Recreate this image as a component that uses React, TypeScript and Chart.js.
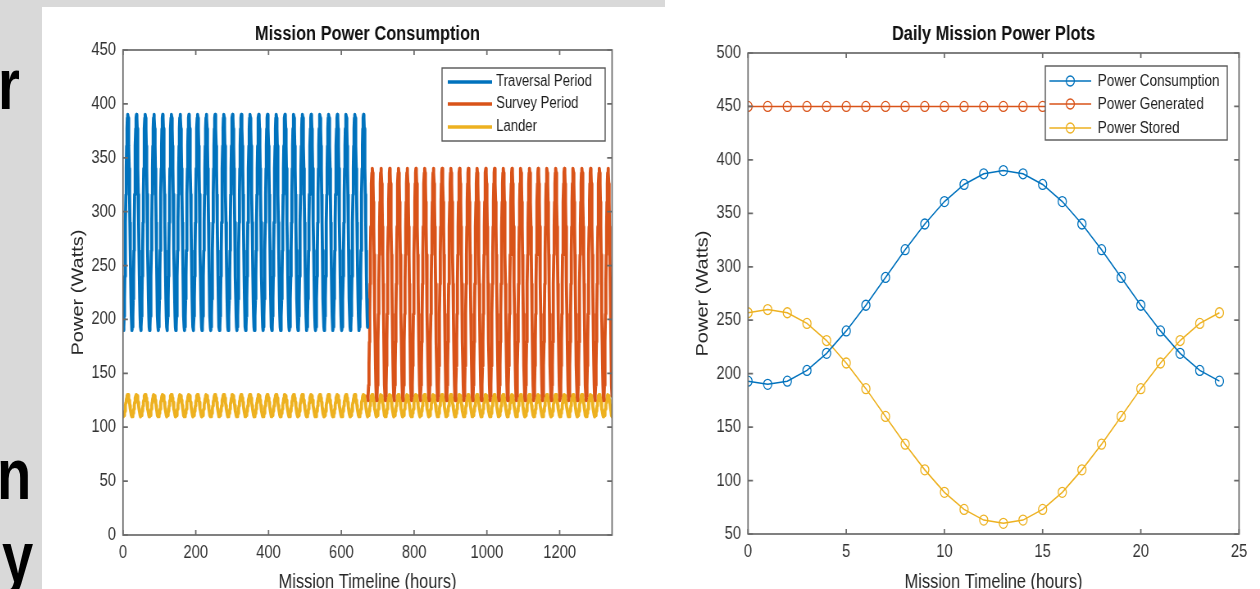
import React, { useEffect, useRef } from "react";
import { Chart, registerables } from "chart.js";

Chart.register(...registerables);

// ---------- Data: right chart (one day, hourly) ----------
const dayHours = [0, 1, 2, 3, 4, 5, 6, 7, 8, 9, 10, 11, 12, 13, 14, 15, 16, 17, 18, 19, 20, 21, 22, 23, 24];
const powerConsumption = [193, 190, 193, 203, 219, 240, 264, 290, 316, 340, 361, 377, 387, 390, 387, 377, 361, 340, 316, 290, 264, 240, 219, 203, 193];
const powerGenerated = [450, 450, 450, 450, 450, 450, 450, 450, 450, 450, 450, 450, 450, 450, 450, 450, 450, 450, 450, 450, 450, 450, 450, 450, 450];
const powerStored = [257, 260, 257, 247, 231, 210, 186, 160, 134, 110, 89, 73, 63, 60, 63, 73, 89, 110, 134, 160, 186, 210, 231, 247, 257];

// ---------- Data: left chart (daily profiles repeated over the mission) ----------
const traversalDayProfile = [193, 190, 193, 203, 219, 240, 264, 290, 316, 340, 361, 377, 387, 390, 387, 377, 361, 340, 316, 290, 264, 240, 219, 203];
const surveyDayProfile = [129, 125, 129, 139, 157, 179, 205, 233, 260, 286, 309, 326, 336, 340, 336, 326, 309, 286, 260, 233, 205, 179, 157, 139];
const landerDayProfile = [110, 110, 110, 111, 113, 115, 117, 120, 123, 125, 127, 129, 130, 130, 130, 129, 127, 125, 123, 120, 117, 115, 113, 111];
const traversalDays = 28;
const surveyDays = 28;
const hoursPerDay = 24;

// ---------- Tick labels ----------
const leftXTicks = [0, 200, 400, 600, 800, 1000, 1200];
const leftYTicks = [0, 50, 100, 150, 200, 250, 300, 350, 400, 450];
const rightXTicks = [0, 5, 10, 15, 20, 25];
const rightYTicks = [50, 100, 150, 200, 250, 300, 350, 400, 450, 500];

// ---------- Styling ----------
const FONT = "'Liberation Sans', Arial, Helvetica, sans-serif";
const BLUE = "#0072BD";
const ORANGE = "#D95319";
const YELLOW = "#EDB120";
const AXIS_COLOR = "#6a6a6a";
const TICK_TEXT = "#333333";
const TICK_SIZE = 18;

Chart.defaults.font.family = FONT;

function tile(profile: number[], startDay: number, days: number) {
  const pts: { x: number; y: number }[] = [];
  for (let d = 0; d < days; d++) {
    for (let h = 0; h < profile.length; h++) {
      pts.push({ x: (startDay + d) * hoursPerDay + h, y: profile[h] });
    }
  }
  pts.push({ x: (startDay + days) * hoursPerDay, y: profile[0] });
  return pts;
}

const traversalPoints = tile(traversalDayProfile, 0, traversalDays);
const surveyPoints = tile(surveyDayProfile, traversalDays, surveyDays);
const landerPoints = tile(landerDayProfile, 0, traversalDays + surveyDays);
const missionEnd = (traversalDays + surveyDays) * hoursPerDay;

type LegendCfg = {
  x: number; y: number; w: number; h: number;
  sampleX0: number; sampleX1: number; textX: number;
  rowY: number[]; fontSize: number; lineWidth: number;
};

function makeMatlabPlugin(id: string, L: LegendCfg) {
  return {
    id,
    afterDatasetsDraw(chart: any) {
      const { ctx, chartArea: a, scales } = chart;
      const xs = scales.x;
      const ys = scales.y;
      ctx.save();
      ctx.strokeStyle = AXIS_COLOR;
      ctx.lineWidth = 1.7;
      ctx.strokeRect(a.left, a.top, a.right - a.left, a.bottom - a.top);
      const tlV = 5;
      const tlH = 6;
      ctx.beginPath();
      xs.ticks.forEach((t: any) => {
        const px = xs.getPixelForValue(t.value);
        ctx.moveTo(px, a.bottom);
        ctx.lineTo(px, a.bottom - tlV);
        ctx.moveTo(px, a.top);
        ctx.lineTo(px, a.top + tlV);
      });
      ys.ticks.forEach((t: any) => {
        const py = ys.getPixelForValue(t.value);
        ctx.moveTo(a.left, py);
        ctx.lineTo(a.left + tlH, py);
        ctx.moveTo(a.right, py);
        ctx.lineTo(a.right - tlH, py);
      });
      ctx.stroke();
      // legend
      ctx.fillStyle = "#ffffff";
      ctx.fillRect(L.x, L.y, L.w, L.h);
      ctx.strokeStyle = "#555555";
      ctx.lineWidth = 1.4;
      ctx.strokeRect(L.x, L.y, L.w, L.h);
      chart.data.datasets.forEach((ds: any, i: number) => {
        const y = L.rowY[i];
        ctx.strokeStyle = ds.borderColor;
        ctx.lineWidth = L.lineWidth;
        ctx.beginPath();
        ctx.moveTo(L.sampleX0, y);
        ctx.lineTo(L.sampleX1, y);
        ctx.stroke();
        if (ds.pointRadius > 0) {
          ctx.beginPath();
          ctx.lineWidth = ds.pointBorderWidth || 1;
          ctx.arc((L.sampleX0 + L.sampleX1) / 2, y, ds.pointRadius, 0, Math.PI * 2);
          ctx.stroke();
        }
        ctx.fillStyle = "#1e1e1e";
        ctx.font = `${L.fontSize}px ${FONT}`;
        ctx.textBaseline = "middle";
        ctx.textAlign = "left";
        ctx.fillText(ds.label, L.textX, y);
      });
      ctx.restore();
    },
  };
}

// The source figure is squeezed horizontally; canvases are drawn wider and displayed narrower.
const LEFT_W = 760;   // displayed at 623px
const RIGHT_W = 726;  // displayed at 595px
const CANVAS_H = 600;

function LeftChart() {
  const ref = useRef<HTMLCanvasElement>(null);
  useEffect(() => {
    const lineStyle = { borderWidth: 3.8, pointRadius: 0, borderJoinStyle: "round", borderCapStyle: "round" };
    const chart = new Chart(ref.current as HTMLCanvasElement, {
      type: "line",
      data: {
        datasets: [
          { label: "Traversal Period", data: traversalPoints, borderColor: BLUE, ...lineStyle },
          { label: "Survey Period", data: surveyPoints, borderColor: ORANGE, ...lineStyle },
          { label: "Lander", data: landerPoints, borderColor: YELLOW, ...lineStyle },
        ],
      },
      options: {
        responsive: false,
        animation: false,
        events: [],
        layout: { padding: { left: 0, right: 64.6, top: 15, bottom: 0 } },
        plugins: {
          legend: { display: false },
          tooltip: { enabled: false },
          title: {
            display: true,
            text: "Mission Power Consumption",
            fullSize: false,
            color: "#111111",
            font: { family: FONT, size: 20, weight: "bold" },
            padding: { top: 0, bottom: 4 },
          },
        },
        scales: {
          x: {
            type: "linear",
            min: 0,
            max: missionEnd,
            afterBuildTicks: (s: any) => { s.ticks = leftXTicks.map((v) => ({ value: v })); },
            afterFit: (s: any) => { s.height = 72; },
            grid: { display: false, drawTicks: false },
            border: { display: false },
            ticks: { padding: 7.5, color: TICK_TEXT, font: { size: TICK_SIZE }, maxRotation: 0, autoSkip: false, callback: (v: any) => String(v) },
            title: { display: true, text: "Mission Timeline (hours)", color: "#262626", font: { size: 20 }, padding: { top: 0, bottom: 13 } },
          },
          y: {
            type: "linear",
            min: 0,
            max: 450,
            afterBuildTicks: (s: any) => { s.ticks = leftYTicks.map((v) => ({ value: v })); },
            afterFit: (s: any) => { s.width = 98.8; },
            grid: { display: false, drawTicks: false },
            border: { display: false },
            ticks: { padding: 8.5, color: TICK_TEXT, font: { size: TICK_SIZE }, autoSkip: false, callback: (v: any) => String(v) },
            title: { display: true, text: "Power (Watts)", color: "#262626", font: { size: 20 }, padding: { top: 32, bottom: 0 } },
          },
        },
      },
      plugins: [
        makeMatlabPlugin("leftFrame", {
          x: 488, y: 61, w: 199, h: 73,
          sampleX0: 495, sampleX1: 549, textX: 554,
          rowY: [75, 97, 120], fontSize: 16, lineWidth: 3.5,
        }),
      ],
    } as any);
    return () => chart.destroy();
  }, []);
  return (
    <canvas
      ref={ref}
      width={LEFT_W}
      height={CANVAS_H}
      style={{ position: "absolute", left: 42, top: 7, width: 623, height: CANVAS_H }}
    />
  );
}

function RightChart() {
  const ref = useRef<HTMLCanvasElement>(null);
  useEffect(() => {
    const mk = (arr: number[]) => arr.map((v, i) => ({ x: dayHours[i], y: v }));
    const common = { borderWidth: 1.5, pointRadius: 5, pointBorderWidth: 1.3, pointBackgroundColor: "rgba(0,0,0,0)", pointStyle: "circle" };
    const chart = new Chart(ref.current as HTMLCanvasElement, {
      type: "line",
      data: {
        datasets: [
          { label: "Power Consumption", data: mk(powerConsumption), borderColor: BLUE, pointBorderColor: BLUE, ...common },
          { label: "Power Generated", data: mk(powerGenerated), borderColor: ORANGE, pointBorderColor: ORANGE, ...common },
          { label: "Power Stored", data: mk(powerStored), borderColor: YELLOW, pointBorderColor: YELLOW, ...common },
        ],
      },
      options: {
        responsive: false,
        animation: false,
        events: [],
        layout: { padding: { left: 0, right: 25.6, top: 22, bottom: 0 } },
        plugins: {
          legend: { display: false },
          tooltip: { enabled: false },
          title: {
            display: true,
            text: "Daily Mission Power Plots",
            fullSize: false,
            color: "#111111",
            font: { family: FONT, size: 20, weight: "bold" },
            padding: { top: 0, bottom: 7 },
          },
        },
        scales: {
          x: {
            type: "linear",
            min: 0,
            max: 25,
            afterBuildTicks: (s: any) => { s.ticks = rightXTicks.map((v) => ({ value: v })); },
            afterFit: (s: any) => { s.height = 66; },
            grid: { display: false, drawTicks: false },
            border: { display: false },
            ticks: { padding: 7.5, color: TICK_TEXT, font: { size: TICK_SIZE }, maxRotation: 0, autoSkip: false, callback: (v: any) => String(v) },
            title: { display: true, text: "Mission Timeline (hours)", color: "#262626", font: { size: 20 }, padding: { top: 0, bottom: 6 } },
          },
          y: {
            type: "linear",
            min: 50,
            max: 500,
            afterBuildTicks: (s: any) => { s.ticks = rightYTicks.map((v) => ({ value: v })); },
            afterFit: (s: any) => { s.width = 101.3; },
            grid: { display: false, drawTicks: false },
            border: { display: false },
            ticks: { padding: 8.5, color: TICK_TEXT, font: { size: TICK_SIZE }, autoSkip: false, callback: (v: any) => String(v) },
            title: { display: true, text: "Power (Watts)", color: "#262626", font: { size: 20 }, padding: { top: 34.4, bottom: 0 } },
          },
        },
      },
      plugins: [
        makeMatlabPlugin("rightFrame", {
          x: 464, y: 66, w: 222, h: 74,
          sampleX0: 469, sampleX1: 520, textX: 528,
          rowY: [81, 104, 128], fontSize: 16.5, lineWidth: 1.5,
        }),
      ],
    } as any);
    return () => chart.destroy();
  }, []);
  return (
    <canvas
      ref={ref}
      width={RIGHT_W}
      height={CANVAS_H}
      style={{ position: "absolute", left: 665, top: 0, width: 595, height: CANVAS_H }}
    />
  );
}

const letterStyle: React.CSSProperties = {
  position: "absolute",
  fontFamily: "'Liberation Sans', Arial, Helvetica, sans-serif",
  fontWeight: "bold",
  fontSize: 72,
  lineHeight: "72px",
  color: "#000",
  transform: "scaleX(0.78)",
  transformOrigin: "left top",
  whiteSpace: "nowrap",
};

export default function App() {
  return (
    <div style={{ position: "absolute", left: 0, top: 0, width: 1260, height: 589, overflow: "hidden", background: "#d9d9d9" }}>
      <div style={{ ...letterStyle, left: -2, top: 48 }}>r</div>
      <div style={{ ...letterStyle, left: -3, top: 438 }}>n</div>
      <div style={{ ...letterStyle, left: 2, top: 521 }}>y</div>
      <div style={{ position: "absolute", left: 42, top: 7, width: 623, height: 582, background: "#ffffff" }} />
      <div style={{ position: "absolute", left: 665, top: 0, width: 595, height: 589, background: "#ffffff" }} />
      <LeftChart />
      <RightChart />
    </div>
  );
}
